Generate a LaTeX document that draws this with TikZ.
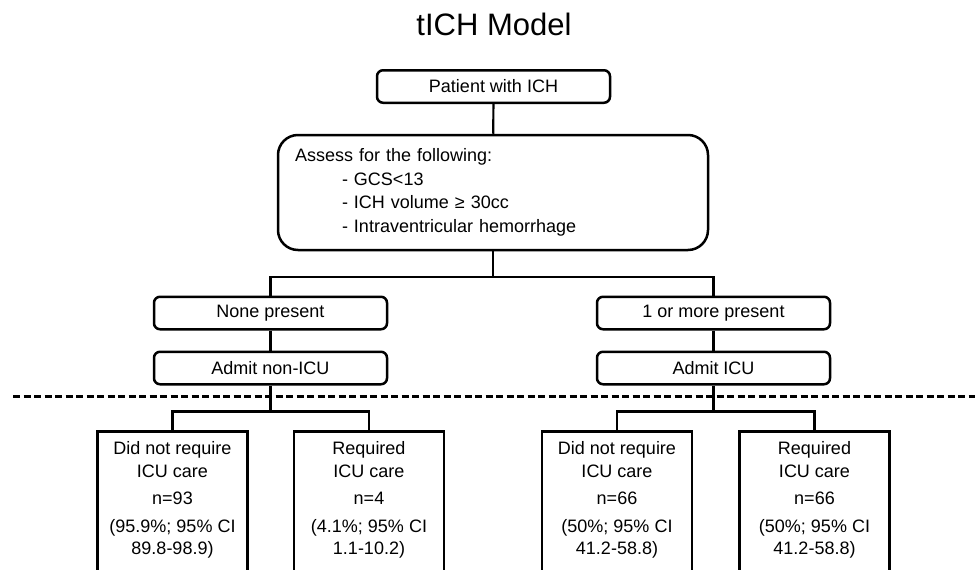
\documentclass[tikz,border=0pt]{standalone}
\usepackage{fontspec}
\setmainfont{Liberation Sans}
\begin{document}
\begin{tikzpicture}[x=1pt,y=-1pt,
  line width=2.2pt,
  every node/.style={font=\fontsize{18}{22.5}\selectfont},
  smallbox/.style={draw, line width=2.5pt, rounded corners=6pt, minimum width=233pt, minimum height=32.5pt, inner sep=0pt},
  bigbox/.style={draw, line width=2.5pt, rounded corners=20pt, minimum width=430pt, minimum height=115pt, text width=396pt, align=left, inner sep=0pt, font=\fontsize{18}{23.5}\selectfont},
  outbox/.style={draw, line width=2.5pt, minimum width=150pt, minimum height=200pt, inner sep=0pt, anchor=north},
  outtext/.style={align=center, inner sep=0pt, anchor=north},
  conn/.style={line width=2.2pt},
  sep/.style={line width=2.2pt, dashed, dash pattern=on 7pt off 3.5pt}
]
\useasboundingbox (0,0) rectangle (975,570);

\node[anchor=base, font=\fontsize{31}{36}\selectfont] (title) at (494,35) {tICH Model};

\node[smallbox] (patient) at (493.5,86.5) {Patient with ICH};
\node[bigbox] (assess) at (493,192.5) {Assess for the following:\\
\hspace*{47pt}- GCS<13\\
\hspace*{47pt}- ICH volume ≥ 30cc\\
\hspace*{47pt}- Intraventricular hemorrhage};

\node[smallbox] (none) at (270.5,313) {None present};
\node[smallbox] (more) at (713.5,313) {1 or more present};
\node[smallbox] (nonicu) at (270.5,368) {Admit non-ICU};
\node[smallbox] (icu) at (713.5,368) {Admit ICU};

\node[outbox] (b1) at (172.5,430) {};
\node[outbox] (b2) at (369,430) {};
\node[outbox] (b3) at (617,430) {};
\node[outbox] (b4) at (814.5,430) {};

\node[outtext] (t1) at (172.5,440.5) {Did not require\\ICU care\\[5pt]n=93\\[5pt](95.9\%; 95\% CI\\89.8-98.9)};
\node[outtext] (t2) at (369,440.5) {Required\\ICU care\\[5pt]n=4\\[5pt](4.1\%; 95\% CI\\1.1-10.2)};
\node[outtext] (t3) at (617,440.5) {Did not require\\ICU care\\[5pt]n=66\\[5pt](50\%; 95\% CI\\41.2-58.8)};
\node[outtext] (t4) at (814.5,440.5) {Required\\ICU care\\[5pt]n=66\\[5pt](50\%; 95\% CI\\41.2-58.8)};

\coordinate (split1) at (493,277);
\coordinate (split2) at (270.5,411.5);
\coordinate (split3) at (713.5,411.5);
\coordinate (dashL) at (13,396.5);
\coordinate (dashR) at (980,396.5);

\draw[conn] (patient) -- (assess);
\draw[conn] (assess.south) -- (split1);
\draw[conn] (none.north) |- (split1) -| (more.north);
\draw[conn] (none) -- (nonicu);
\draw[conn] (more) -- (icu);
\draw[conn] (nonicu.south) -- (split2);
\draw[conn] (icu.south) -- (split3);
\draw[conn] (b1.north) |- (split2) -| (b2.north);
\draw[conn] (b3.north) |- (split3) -| (b4.north);
\draw[sep] (dashL) -- (dashR);
\end{tikzpicture}
\end{document}
